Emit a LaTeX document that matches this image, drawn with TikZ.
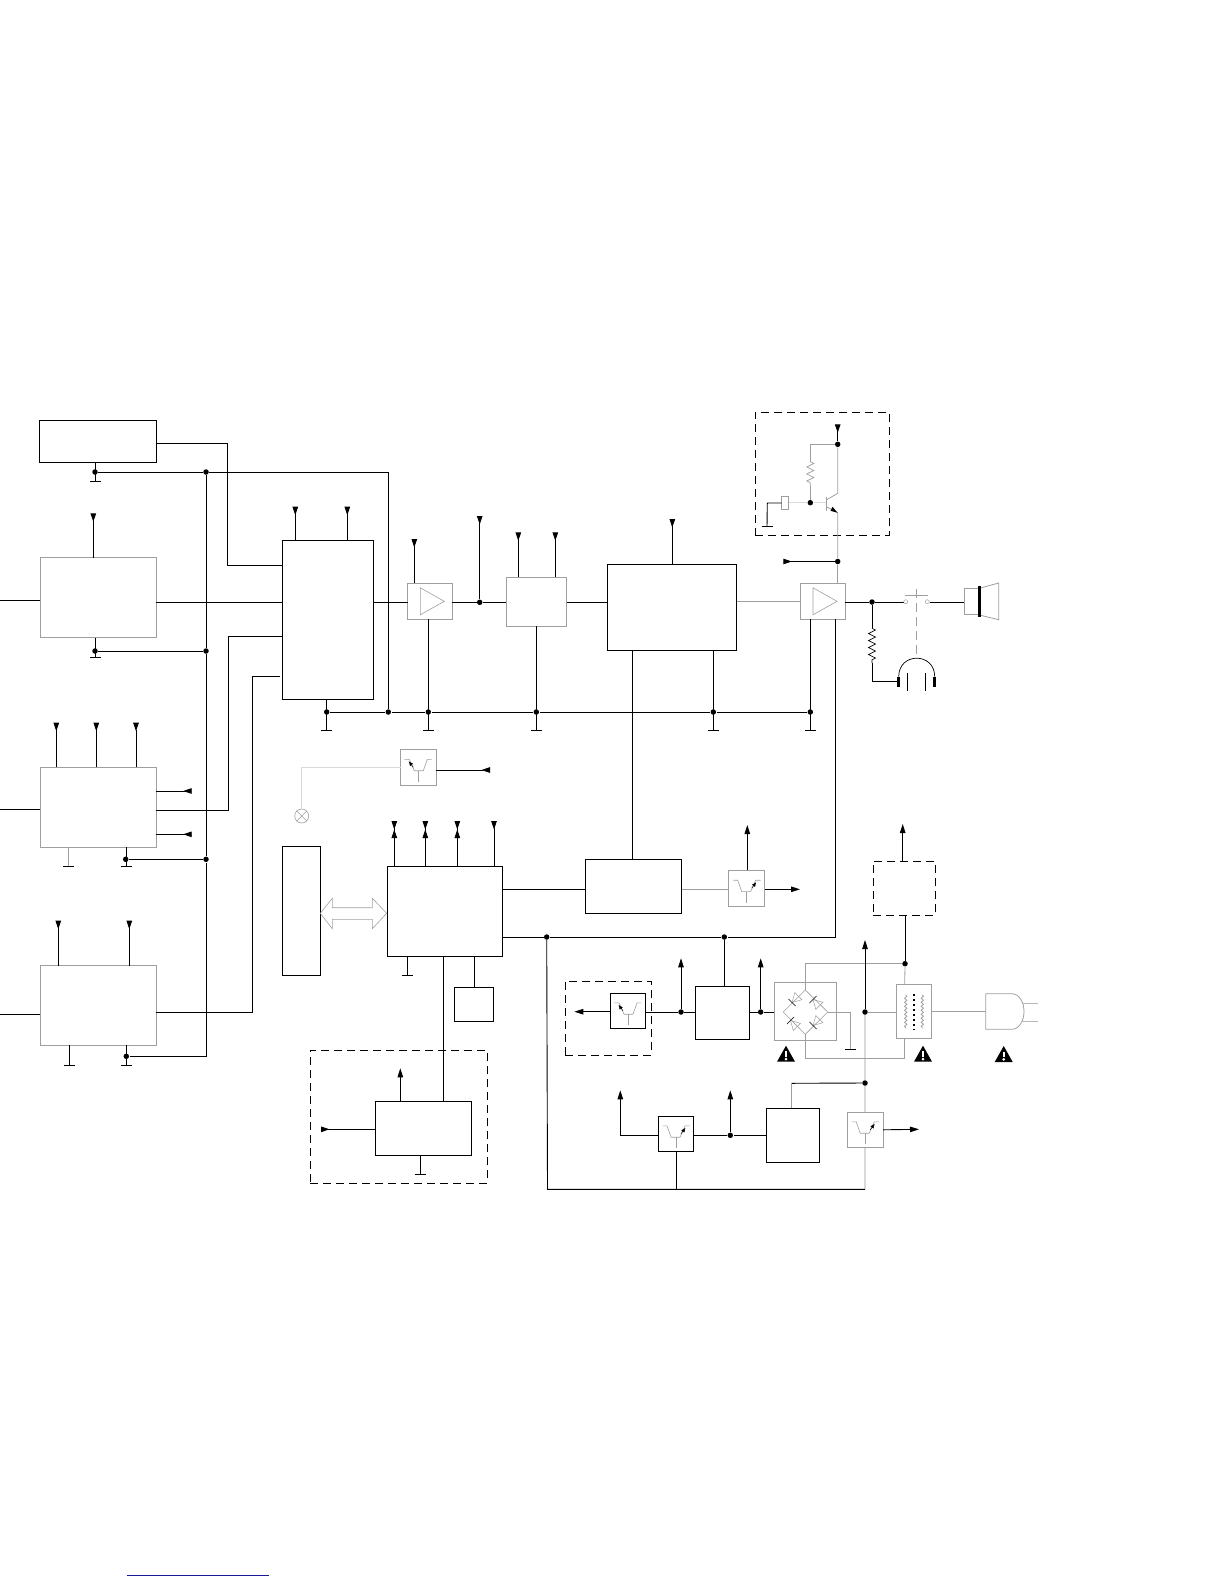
\documentclass[tikz,border=0pt]{standalone}
\usetikzlibrary{arrows.meta,decorations.pathmorphing}
\definecolor{linkblue}{RGB}{25,25,150}
\begin{document}
\begin{tikzpicture}[
    x=1pt, y=-1pt, line width=0.9pt,
    blk/.style={rectangle, draw, fill=white, inner sep=0pt, outer sep=0pt},
    gblk/.style={blk, draw=gray!75},
    dashbox/.style={rectangle, draw, dashed, dash pattern=on 8pt off 5pt, inner sep=0pt, outer sep=0pt},
    gline/.style={draw=gray!75, line width=0.8pt},
    pale/.style={draw=gray!30, line width=1.5pt},
    jdot/.style={circle, fill=black, inner sep=0pt, minimum size=5.5pt},
    inpin/.style={{Triangle[reversed,length=8.5pt,width=5.5pt]}-},
    outpin/.style={-{Triangle[length=9pt,width=5.5pt]}},
    bipin/.style={-{Triangle[length=8.5pt,width=5.5pt,sep=0pt]Triangle[reversed,length=8.5pt,width=5.5pt]}},
    res/.style={decorate, line width=0.7pt, decoration={zigzag, segment length=7pt, amplitude=3.5pt}},
    winding/.style={decorate, decoration={snake, segment length=4pt, amplitude=1.2pt}},
    filtsym/.pic={
        \draw[gline, line width=0.6pt] (-14,-8) -- (-9,-8) -- (-4,3.4) -- (5,3.4) -- (9,-8) -- (13.4,-8);
        \draw[gline, line width=0.6pt] (0,3.4) -- (0,14.4);
        \draw[-{Latex[length=4.5pt,width=4pt]}, line width=0.5pt] (-5,0) -- (-9.5,-6);
    },
    ampsym/.pic={\draw[gline, line width=0.6pt] (-9.7,-13.5) -- (14.3,0) -- (-9.7,13.5) -- cycle;},
    diodesym/.pic={
        \draw[gline, line width=0.5pt] (0,0) -- (9,-5) -- (9,5) -- cycle;
        \draw[line width=0.6pt] (0,-5) -- (0,5);
    },
    warnsym/.pic={
        \fill (-9,0) -- (9,0) -- (0,-16) -- cycle;
        \fill[white] (-1.2,-10.5) rectangle (1.2,-5);
        \fill[white] (0,-2.6) circle[radius=1.5pt];
    }
]
    \useasboundingbox (0,0) rectangle (1224,1584);

    % left column
    \node[blk,  minimum width=117.4pt, minimum height=42pt] (boxa) at (98,441.3) {};
    \node[gblk, minimum width=115.7pt, minimum height=80pt] (boxb) at (98.2,597.7) {};
    \node[gblk, minimum width=115.7pt, minimum height=79.7pt] (boxc) at (98.2,807.2) {};
    \node[gblk, minimum width=115.7pt, minimum height=79.6pt] (boxd) at (98.2,1005.5) {};

    % audio path
    \node[blk,  minimum width=90.6pt, minimum height=159pt] (boxp) at (328,619.8) {};
    \node[gblk, minimum width=44.6pt, minimum height=36pt] (amp1) at (430,601.3) {};
    \node[gblk, minimum width=60.7pt, minimum height=49pt] (boxq) at (536.3,601.8) {};
    \node[blk,  minimum width=129.4pt, minimum height=86pt] (boxr) at (672,607.3) {};
    \node[gblk, minimum width=44.7pt, minimum height=36pt] (amp2) at (822.7,601.3) {};
    \pic at (amp1) {ampsym};
    \pic at (amp2) {ampsym};

    % control section
    \node[blk, minimum width=38pt, minimum height=129pt] (boxm) at (301.3,910.8) {};
    \node[blk, minimum width=115pt, minimum height=90pt] (boxu) at (444.8,911.3) {};
    \node[blk, minimum width=39pt, minimum height=34pt] (boxv) at (473.8,1004.3) {};
    \node[blk, minimum width=96.4pt, minimum height=54pt] (boxw) at (423.5,1128.3) {};
    \node[blk, minimum width=96.4pt, minimum height=54pt] (boxs) at (633.5,886.3) {};
    \node[blk, minimum width=54pt, minimum height=53pt] (boxx) at (722.3,1012.8) {};
    \node[blk, minimum width=53pt, minimum height=54pt] (boxy) at (792.8,1135.3) {};

    % dashed groups
    \node[dashbox, minimum width=134pt, minimum height=123pt] (dasht) at (822.3,473.8) {};
    \node[dashbox, minimum width=62pt, minimum height=54pt] (dashp) at (904.3,888.3) {};
    \node[dashbox, minimum width=86pt, minimum height=74pt] (dashf) at (608.3,1018.3) {};
    \node[dashbox, minimum width=177pt, minimum height=133pt] (dashw) at (398.8,1116.8) {};

    % junctions
    \foreach \n/\x/\y in {ja/95/472, jb/95/651, jc/125.7/859.3, jd/126.3/1056.3,
        jvt/206/472, jvb/206/651, jvc/206/859.3, jbus/388.3/712, jp/326.7/712,
        jg1/428.3/712, jg2/536.3/712, jg3/713.3/712, jg4/810.3/712, jo/479.7/602.3,
        ju1/546.7/937, ju2/724.3/937, jf3/681/1012, jx/760.7/1012, jm/865/1012,
        jy/865/1083, jtr/905/963.7, jf4/730.3/1135.3, jt1/837.7/444.3, jt2/810.3/502.7,
        jt3/837.7/561.5, jsp/872/602}
        \node[jdot] (\n) at (\x,\y) {};

    % ground symbols
    \foreach \n/\x/\y in {ga/95.7/481.3, gb/95.7/657.3, gp/326.7/730.3, gg1/428.3/730.3,
        gg2/536.3/730.3, gg3/713.3/730.3, gg4/810.3/730.3, gc1/68.7/866, gc2/126.3/866,
        gd1/69.3/1065.3, gd2/126.3/1065.3, gu/407.7/975.3, gw/420.3/1174.3,
        gt/767/526.7, gbr/850.3/1049.3}{
        \coordinate (\n) at (\x,\y);
        \draw ([xshift=-5.5pt]\n) -- ([xshift=5.5pt]\n);
    }
    \foreach \n/\b in {ga/boxa, gb/boxb, gp/boxp, gg1/amp1, gg2/boxq, gg3/boxr, gg4/amp2,
        gc2/boxc, gd1/boxd, gd2/boxd, gu/boxu, gw/boxw}
        \draw (\n) -- (\n |- \b.south);
    \draw[gline] (gc1) -- (gc1 |- boxc.south);

    % supply pins
    \foreach \n/\x/\y/\b in {pb/93.3/513.3/boxb, pp1/295.3/506.7/boxp, pp2/347.3/506.7/boxp,
        pc1/56.3/722.7/boxc, pc2/96.3/722.7/boxc, pc3/136/722.7/boxc,
        pd1/58.3/920.7/boxd, pd2/129.3/920.7/boxd, pg/414.3/539/amp1,
        pq1/518.3/532.3/boxq, pq2/555.3/532.3/boxq, pr/672.3/519/boxr, pu/494/821/boxu}{
        \coordinate (\n) at (\x,\y);
        \draw[inpin] (\n) -- (\n |- \b.north);
    }
    \foreach \n/\x in {pb1/394.3, pb2/425.3, pb3/457.3}{
        \coordinate (\n) at (\x,821);
        \draw[bipin] (\n |- boxu.north) -- (\n);
    }

    % rails
    \draw (ja) -- (jvt) -- (jbus |- ja) -- (jbus);
    \draw (jvt) -- (jvb) -- (jvc) -- (jvc |- jd) -- (jd);
    \draw (jb) -- (jvb);
    \draw (jc) -- (jvc);
    \draw (jp) -- (jbus) -- (jg1) -- (jg2) -- (jg3) -- (jg4);

    % left column signal lines
    \draw (boxa.east |- 0,443.3) -| (227.3,565.3) -- (boxp.west |- 0,565.3);
    \draw (0,600.7) -- (boxb.west |- 0,600.7);
    \draw (boxb.east |- 0,602.3) -- (boxp.west |- 0,602.3);
    \draw (boxp.west |- 0,636.3) -| (228.3,810.3) -- (boxc.east |- 0,810.3);
    \draw (280,676.3) -| (252.3,1012.3) -- (boxd.east |- 0,1012.3);
    \draw (0,809) -- (boxc.west |- 0,809);
    \draw (0,1014.3) -- (boxd.west |- 0,1014.3);
    \coordinate (pc4) at (191.7,791);
    \coordinate (pc5) at (191.7,834.3);
    \draw[inpin] (pc4) -- (pc4 -| boxc.east);
    \draw[inpin] (pc5) -- (pc5 -| boxc.east);

    % audio chain
    \draw (boxp.east |- 0,602.3) -- (amp1.west |- 0,602.3);
    \draw (amp1.east |- 0,602.3) -- (jo) -- (boxq.west |- 0,602.3);
    \draw (boxq.east |- 0,602.3) -- (boxr.west |- 0,602.3);
    \draw[gline] (boxr.east |- 0,601.3) -- (amp2.west |- 0,601.3);
    \coordinate (po) at (479.7,516);
    \draw[inpin] (po) -- (jo);
    \draw (boxr.south -| 632.5,0) -- (boxs.north -| 632.5,0);
    \draw (amp2.south -| 835.5,0) -- (835.5,937) -- (ju2) -- (ju1) -- (boxu.east |- ju1);

    % beep transistor
    \coordinate (pt) at (837.7,424.3);
    \draw[inpin] (pt) -- (jt1);
    \draw[gline] (jt1) -- (810.3,444.3) -- (810.3,461.7);
    \draw[gline, res] (810.3,461.7) -- (810.3,486);
    \draw[gline] (810.3,486) -- (jt2);
    \draw[gline] (jt1) -- (837.7,493.3) -- (826.3,500);
    \draw[gline] (826.3,496.7) -- (826.3,510.7);
    \draw[gline] (826.3,506.7) -- (837.7,512.7) -- (jt3);
    \fill (837.5,512.7) -- (830.5,510.8) -- (832.6,506.8) -- cycle;
    \draw[gline] (jt3) -- (jt3 |- amp2.north);
    \draw[pale] (788.7,502.7) -- (jt2) -- (826.3,502.7);
    \node[gblk, minimum width=7pt, minimum height=12.6pt] (xtal) at (785.2,503) {};
    \draw (xtal.west) -- (767.3,503) -- (gt);
    \coordinate (pa) at (783.3,561.5);
    \draw[inpin] (pa) -- (jt3);

    % speaker and headphones
    \draw (amp2.east |- jsp) -- (jsp) -- (903.5,602);
    \draw (jsp) -- (872,628.3);
    \draw[res] (872,628.3) -- (872,663);
    \draw (872,663) -- (872,681.7) -- (897,681.7);
    \draw[gline, line width=0.5pt] (905.7,601.7) circle[radius=2pt] (927.3,601.7) circle[radius=2pt];
    \draw[gline, line width=1pt] (905,595.7) -- (927.7,595.7);
    \draw[gline, dashed, dash pattern=on 9pt off 5pt] (916.3,589) -- (916.3,656.7);
    \draw (929.5,602) -- (964.3,602);
    \draw[line width=3pt] (898.7,676.7) -- (898.7,686.7) (934.7,676.7) -- (934.7,686.7);
    \draw[line width=0.7pt] (898.7,676.7) .. controls (898.7,652) and (934.7,652) .. (934.7,676.7);
    \draw[line width=0.7pt] (907.3,673.3) -- (907.3,690.7) (925.3,673.3) -- (925.3,690.7);
    \draw[gline] (979.3,588.3) -- (964.3,588.3) -- (964.3,614.3) -- (979.3,614.3);
    \draw[gline] (979.3,588.3) -- (998.7,583) -- (998.7,619.7) -- (979.3,615);
    \draw[line width=2.8pt] (979.3,586) -- (979.3,617.3);

    % micro and its neighbours
    \draw[gline, line width=0.6pt] (320.3,913.3) -- (332.3,898.3) -- (332.3,907.7) -- (372.3,907.7)
        -- (372.3,898.3) -- (386.7,913.3) -- (372.3,928.7) -- (372.3,919.3) -- (332.3,919.3)
        -- (332.3,928.7) -- cycle;
    \draw (boxu.south -| 443.5,0) -- (boxw.north -| 443.5,0);
    \draw (boxv.north -| 474.3,0) -- (boxu.south -| 474.3,0);
    \draw (boxu.east |- 0,889.3) -- (boxs.west |- 0,889.3);
    \coordinate (pw1) at (400.3,1068.3);
    \coordinate (pw2) at (321,1129.3);
    \draw[outpin] (pw1 |- boxw.north) -- (pw1);
    \draw[inpin] (pw2) -- (pw2 -| boxw.west);

    % filters, pale supply behind them
    \draw[pale] (jm) -- (jy) -- (865,1189.3);
    \foreach \n/\x/\y/\s/\c in {f1/418.3/767.3/1/gblk, f2/746.7/888.2/-1/gblk, f3/628/1010.8/1/blk,
        f4/676/1133.8/-1/blk, f5/865.2/1129.8/-1/gblk}{
        \node[\c, minimum size=35.6pt] (\n) at (\x,\y) {};
        \pic[xscale=\s] at (\n) {filtsym};
    }
    \node[circle, draw=gray!75, line width=0.6pt, inner sep=0pt, minimum size=14pt] (lamp) at (301.7,816) {};
    \draw[gline, line width=0.6pt] (lamp.45) -- (lamp.225) (lamp.135) -- (lamp.315);
    \draw[pale] (f1.west) -- (lamp |- f1.west) -- (lamp.north);
    \coordinate (pf1) at (490,770);
    \draw[inpin] (pf1) -- (pf1 -| f1.east);
    \draw[gline] (boxs.east |- 0,889.3) -- (f2.west |- 0,889.3);
    \coordinate (pf2a) at (747.3,825);
    \coordinate (pf2b) at (800,889.3);
    \draw[outpin] (pf2a |- f2.north) -- (pf2a);
    \draw[outpin] (pf2b -| f2.east) -- (pf2b);
    \coordinate (pf3) at (574.3,1011.7);
    \draw[outpin] (pf3 -| f3.west) -- (pf3);
    \draw (f3.east |- jf3) -- (jf3) -- (boxx.west |- jf3);
    \coordinate (px1) at (681,958.3);
    \coordinate (px2) at (760.7,958.3);
    \draw[outpin] (jf3) -- (px1);
    \draw[outpin] (jx) -- (px2);
    \draw (ju2) -- (ju2 |- boxx.north);
    \draw (ju1) -- (547.5,1189.3) -- (865,1189.3);
    \draw (f4.south) -- (f4.south |- 0,1189.3);
    \draw (boxy.west |- jf4) -- (jf4) -- (jf4 -| f4.east);
    \coordinate (pf4a) at (730.3,1090.3);
    \coordinate (pf4b) at (620.3,1090.3);
    \draw[outpin] (jf4) -- (pf4a);
    \draw[outpin] (f4.west |- jf4) -| (pf4b);
    \coordinate (pf5) at (919,1129.3);
    \draw[outpin] (f5.east) -- (pf5);

    % mains side
    \node[gblk, minimum width=62.4pt, minimum height=57.6pt] (bridge) at (805.5,1011.5) {};
    \node[gblk, minimum width=35.4pt, minimum height=53.6pt] (trafo) at (914,1011.5) {};
    \coordinate (dl) at (783.3,1012);
    \coordinate (dt) at (805.3,990);
    \coordinate (dr) at (827.7,1012);
    \coordinate (db) at (805.3,1034.3);
    \draw[gline, line width=0.6pt] (dl) -- (dt) -- (dr) -- (db) -- cycle;
    \pic[rotate=45]  at (792,1002.5) {diodesym};
    \pic[rotate=-45] at (813,999.5) {diodesym};
    \pic[rotate=-45] at (790.5,1020.5) {diodesym};
    \pic[rotate=45]  at (813,1025.5) {diodesym};
    \draw (boxx.east |- jx) -- (jx) -- (bridge.west |- jx);
    \draw[gline] (dt) -- (dt |- jtr) -- (jtr);
    \draw[gline] (db) -- (805.3,1058.3) -- (904.7,1058.3) -- (904.7,1038.3);
    \draw[gline] (jtr) -- (904.7,984.7);
    \draw[gline] (dr) -- (850.3,1012) -- (gbr);
    \draw[gline] (jm) -- (trafo.west |- jm);
    \coordinate (pm) at (865,940);
    \draw[outpin] (jm) -- (pm);
    \draw (dashp.south -| jtr) -- (jtr);
    \coordinate (pdp) at (902.7,824);
    \draw[outpin] (pdp |- dashp.north) -- (pdp);
    \draw[gline, winding] (905.7,995) -- (905.7,1028.3);
    \draw[gline, winding] (922.3,995) -- (922.3,1028.3);
    \draw[line width=2pt, dash pattern=on 2pt off 3pt] (914,994) -- (914,1029.5);
    \draw (jy) -- (791.7,1083.3);
    \draw[gline] (791.7,1083.3) -- (791.7,0 |- boxy.north);
    % mains plug
    \draw[gline] (trafo.east) -- (985.7,1011.5);
    \draw[gline, fill=white] (1011.7,993.7) -- (985.7,993.7) -- (985.7,1029.3) -- (1011.7,1029.3)
        .. controls (1019,1029.3) and (1024,1021) .. (1024,1011.5)
        .. controls (1024,1002) and (1019,993.7) .. cycle;
    \draw[draw=gray!55, line width=0.7pt] (1022,1003.3) -- (1038.3,1003.3) (1022,1021.3) -- (1038.3,1021.3);
    \pic at (786,1061.7) {warnsym};
    \pic at (923,1061.7) {warnsym};
    \pic at (1003.7,1062) {warnsym};

    \draw[draw=linkblue] (126.7,1575.3) -- (269,1575.3);
\end{tikzpicture}
\end{document}
